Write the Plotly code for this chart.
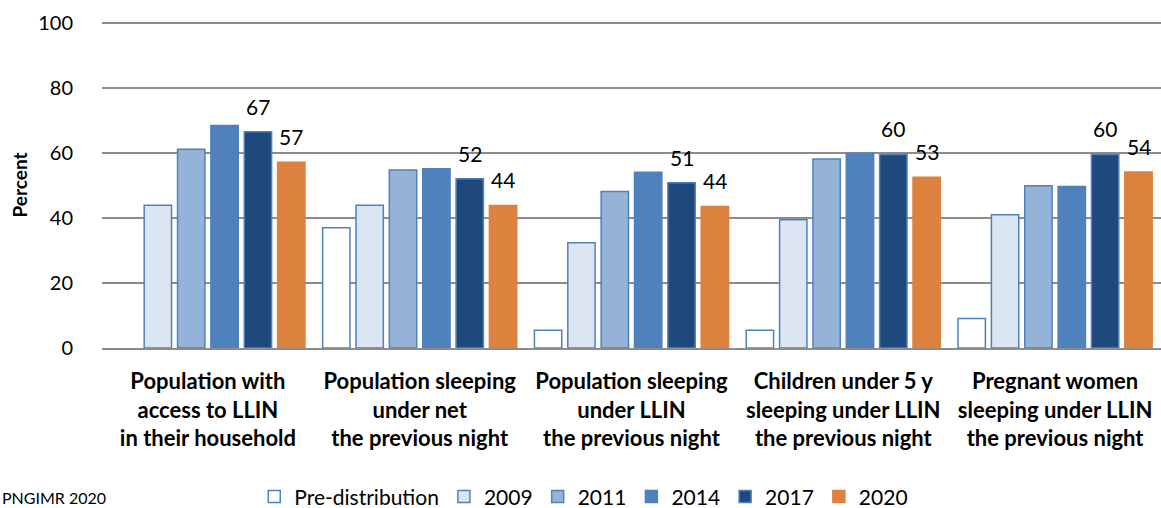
import plotly.graph_objects as go

categories = [
    "Population with<br>access to LLIN<br>in their household",
    "Population sleeping<br>under net<br>the previous night",
    "Population sleeping<br>under LLIN<br>the previous night",
    "Children under 5 y<br>sleeping under LLIN<br>the previous night",
    "Pregnant women<br>sleeping under LLIN<br>the previous night",
]
series_names = ["Pre-distribution", "2009", "2011", "2014", "2017", "2020"]
pre_distribution = [None, 37.0, 5.5, 5.5, 9.1]
y2009 = [44.0, 44.0, 32.4, 39.5, 41.0]
y2011 = [61.2, 54.8, 48.2, 58.2, 50.0]
y2014 = [68.5, 55.2, 54.1, 60.0, 49.7]
y2017 = [66.6, 52.1, 50.9, 59.6, 59.6]
y2020 = [57.2, 43.9, 43.6, 52.6, 54.2]
series_values = [pre_distribution, y2009, y2011, y2014, y2017, y2020]
labelled = [False, False, False, False, True, True]
y_ticks = [0, 20, 40, 60, 80, 100]

fills = ["#FFFFFF", "#DCE6F2", "#95B3D7", "#4F81BD", "#1F497D", "#DC823E"]
lines = ["#4F81BD", "#4F81BD", "#4F81BD", "#4F81BD", "#4F81BD", "#DC823E"]

FONT = "Lato, 'Open Sans', sans-serif"
BARGAP = 0.055
n_series = len(series_names)

fig = go.Figure()
annotations = []
for i, (name, vals, fc, lc, lab) in enumerate(zip(series_names, series_values, fills, lines, labelled)):
    fig.add_trace(go.Bar(
        name=name,
        x=categories,
        y=vals,
        marker=dict(color=fc, line=dict(color=lc, width=1.5)),
    ))
    if lab:
        slot = (1 - BARGAP) / n_series
        for j, v in enumerate(vals):
            if v is None:
                continue
            annotations.append(dict(
                x=j + (i - (n_series - 1) / 2) * slot, y=v,
                xref="x", yref="y",
                text=f"{v:.0f}", showarrow=False,
                xanchor="center", yanchor="bottom", yshift=11,
                font=dict(family=FONT, size=21, color="#000000"),
            ))

annotations.append(dict(
    text="PNGIMR 2020", xref="paper", yref="paper",
    x=-102/1059, y=-149/326, xanchor="left", yanchor="middle",
    showarrow=False, font=dict(family=FONT, size=16, color="#000000"),
))

fig.update_layout(
    width=1161, height=508,
    margin=dict(l=102, r=0, t=22, b=160, autoexpand=False),
    paper_bgcolor="white", plot_bgcolor="white",
    barmode="group", bargap=BARGAP, bargroupgap=0.18,
    font=dict(family=FONT, size=20, color="#000000"),
    showlegend=True,
    legend=dict(
        orientation="h",
        xref="container", yref="container",
        x=0.219, y=0.022, xanchor="left", yanchor="middle",
        font=dict(family=FONT, size=21, color="#000000"),
        itemwidth=30,
        traceorder="normal",
    ),
    xaxis=dict(
        range=[-0.5, 4.5],
        showgrid=False,
        showline=True, linecolor="#8C8C8C", linewidth=1.5,
        ticks="outside", ticklen=13, tickcolor="rgba(0,0,0,0)",
        tickfont=dict(family=FONT, size=22, color="#000000", weight="bold"),
    ),
    yaxis=dict(
        range=[0, 100.4],
        tickvals=y_ticks,
        showgrid=True, gridcolor="#8C8C8C", gridwidth=1.5,
        zeroline=False,
        showline=False,
        ticks="outside", ticklen=24, tickcolor="rgba(0,0,0,0)",
        tickfont=dict(family=FONT, size=20, color="#000000"),
        title=dict(text="Percent", font=dict(family=FONT, size=19, color="#000000", weight="bold"), standoff=5),
    ),
    annotations=annotations,
)

fig.write_html("out.html", config={"displayModeBar": False},
               post_script="document.body.style.margin='0';")
